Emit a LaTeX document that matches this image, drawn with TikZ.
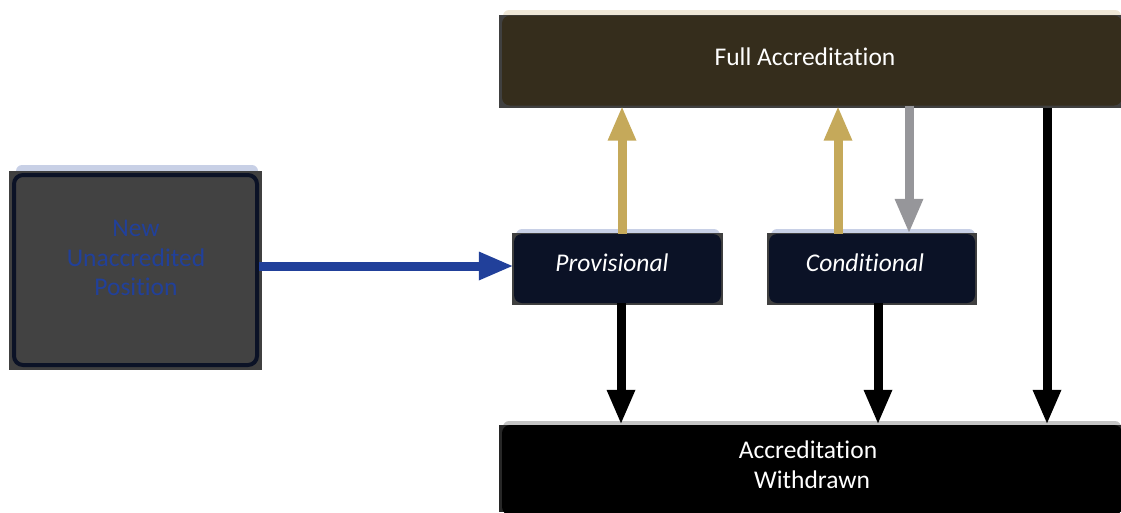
\documentclass[tikz,border=0pt]{standalone}
\usepackage{fontspec}
\setmainfont{Carlito}[Ligatures=NoCommon]
\usetikzlibrary{arrows.meta}
\definecolor{edgegray}{HTML}{404040}
\definecolor{leftfill}{HTML}{424242}
\definecolor{navy}{HTML}{0B1226}
\definecolor{bluestripe}{HTML}{C8D0E6}
\definecolor{bluetxt}{HTML}{21409A}
\definecolor{fullfill}{HTML}{352D1C}
\definecolor{creamstripe}{HTML}{EFE7D6}
\definecolor{graystripe}{HTML}{C4C4C4}
\definecolor{gold}{HTML}{C5A95A}
\definecolor{arrgray}{HTML}{96969A}
\tikzset{
  boxtext/.style={font=\fontsize{25.5}{29.5}\selectfont, align=center, text=white},
  itboxtext/.style={boxtext, font=\fontsize{25.5}{29.5}\selectfont\itshape},
  fat/.style={line width=9pt, -{Triangle[width=26pt,length=35pt]}},
}
\begin{document}
\begin{tikzpicture}[x=1pt,y=-1pt]
\useasboundingbox (0,0) rectangle (1121,512);
% ---- left box
\fill[bluestripe, rounded corners=6pt] (16,165) rectangle (258,180);
\fill[edgegray] (9,171) rectangle (262,370);
\node[draw=navy, line width=4pt, fill=leftfill, rounded corners=9pt,
      minimum width=243pt, minimum height=190pt] (new) at (135.5,270) {};
\node[boxtext, text=bluetxt] at (136,258) {New\\Unaccredited\\Position};
% ---- full accreditation
\fill[creamstripe, rounded corners=6pt] (503,10) rectangle (1121,24);
\fill[edgegray] (499,15) rectangle (1121,108);
\node[fill=fullfill, rounded corners=8pt, minimum width=620pt, minimum height=90pt]
      (full) at (812,60.5) {};
\node[boxtext] at (805,57) {Full Accreditation};
% ---- provisional
\fill[bluestripe, rounded corners=6pt] (516,229) rectangle (720,242);
\fill[edgegray] (512,233) rectangle (723,305);
\node[fill=navy, rounded corners=8pt, minimum width=207pt, minimum height=69pt]
      (prov) at (617.5,268.5) {};
\node[itboxtext] at (612,263) {Provisional};
% ---- conditional
\fill[bluestripe, rounded corners=6pt] (771,229) rectangle (975,242);
\fill[edgegray] (767,233) rectangle (977,305);
\node[fill=navy, rounded corners=8pt, minimum width=206pt, minimum height=69pt]
      (cond) at (872,268.5) {};
\node[itboxtext] at (865,263) {Conditional};
% ---- withdrawn
\fill[graystripe, rounded corners=6pt] (503,421) rectangle (1121,435);
\fill[edgegray!60!black] (499,425) rectangle (1121,512);
\node[fill=black, rounded corners=8pt, minimum width=620pt, minimum height=90pt]
      (wd) at (812,470) {};
\node[boxtext] at (808,464.5) {Accreditation\\\hspace*{8pt}Withdrawn};
% ---- arrows
\draw[fat, bluetxt] (new.east |- 0,266) -- (prov.west |- 0,266);
\draw[fat, gold] ([xshift=4.5pt]prov.north) -- ([xshift=4.5pt]prov.north |- full.south);
\draw[fat, gold] ([xshift=-34pt]cond.north) -- ([xshift=-34pt]cond.north |- full.south);
\draw[fat, arrgray] ([xshift=37pt]cond.north |- full.south) -- ([xshift=37pt]cond.north);
\draw[fat, black] ([xshift=3.5pt]prov.south) -- ([xshift=3.5pt]prov.south |- wd.north);
\draw[fat, black] ([xshift=6pt]cond.south) -- ([xshift=6pt]cond.south |- wd.north);
\draw[fat, black] (1047,108) coordinate (fr) -- (fr |- wd.north);
\end{tikzpicture}
\end{document}
